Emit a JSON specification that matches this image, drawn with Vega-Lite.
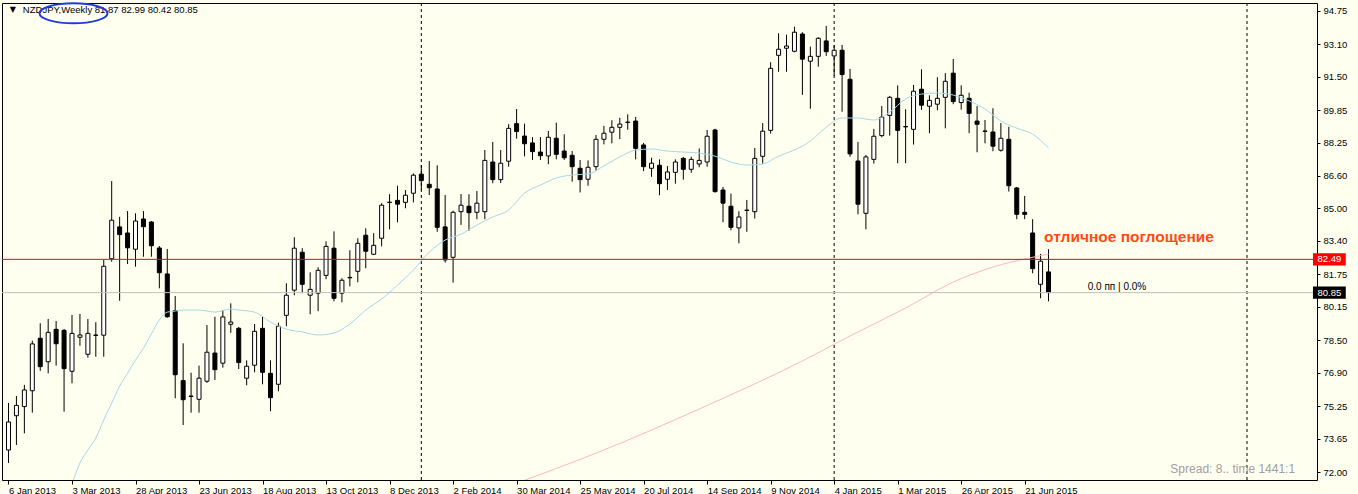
{
  "$schema": "https://vega.github.io/schema/vega-lite/v6.json",
  "width": 1315,
  "height": 477,
  "autosize": {"type": "none"},
  "padding": {"left": 2, "top": 3, "right": 41, "bottom": 14},
  "background": "#FFFFF0",
  "config": {
    "view": {"stroke": "#000000", "strokeWidth": 1, "fill": "#FFFFF0"},
    "font": "Liberation Sans"
  },
  "resolve": {"axis": {"x": "independent", "y": "independent"}},
  "datasets": {
    "candles": [
      {"i":0,"o":73.09,"h":75.41,"l":72.45,"c":74.47},
      {"i":1,"o":74.78,"h":75.75,"l":73.34,"c":75.29},
      {"i":2,"o":75.23,"h":76.30,"l":73.91,"c":76.05},
      {"i":3,"o":76.01,"h":78.48,"l":74.93,"c":78.32},
      {"i":4,"o":78.60,"h":79.34,"l":76.99,"c":77.20},
      {"i":5,"o":77.44,"h":79.55,"l":76.87,"c":78.89},
      {"i":6,"o":79.04,"h":79.45,"l":77.25,"c":78.33},
      {"i":7,"o":78.99,"h":79.06,"l":74.98,"c":77.10},
      {"i":8,"o":76.97,"h":79.75,"l":76.38,"c":78.84},
      {"i":9,"o":78.65,"h":79.80,"l":78.23,"c":78.76},
      {"i":10,"o":77.81,"h":79.55,"l":77.64,"c":78.84},
      {"i":11,"o":78.74,"h":79.39,"l":77.69,"c":78.76},
      {"i":12,"o":78.75,"h":82.46,"l":77.69,"c":82.15},
      {"i":13,"o":82.52,"h":86.35,"l":82.37,"c":84.42},
      {"i":14,"o":84.09,"h":84.59,"l":80.45,"c":83.71},
      {"i":15,"o":83.79,"h":84.87,"l":82.26,"c":83.06},
      {"i":16,"o":82.99,"h":84.76,"l":82.13,"c":84.38},
      {"i":17,"o":84.48,"h":84.87,"l":82.62,"c":84.10},
      {"i":18,"o":84.33,"h":84.38,"l":82.62,"c":83.16},
      {"i":19,"o":83.05,"h":83.15,"l":81.06,"c":81.83},
      {"i":20,"o":81.77,"h":83.00,"l":79.61,"c":79.66},
      {"i":21,"o":79.96,"h":80.68,"l":75.64,"c":76.80},
      {"i":22,"o":76.51,"h":78.35,"l":74.32,"c":75.57},
      {"i":23,"o":75.73,"h":76.90,"l":74.93,"c":75.75},
      {"i":24,"o":75.59,"h":77.25,"l":74.93,"c":76.63},
      {"i":25,"o":76.48,"h":79.25,"l":76.40,"c":77.91},
      {"i":26,"o":77.87,"h":79.66,"l":76.54,"c":77.05},
      {"i":27,"o":77.37,"h":79.99,"l":77.15,"c":79.65},
      {"i":28,"o":79.29,"h":80.32,"l":78.87,"c":79.40},
      {"i":29,"o":79.09,"h":79.16,"l":77.08,"c":77.40},
      {"i":30,"o":76.63,"h":77.51,"l":76.28,"c":77.22},
      {"i":31,"o":77.27,"h":79.30,"l":76.92,"c":78.94},
      {"i":32,"o":79.09,"h":79.66,"l":76.33,"c":76.92},
      {"i":33,"o":76.87,"h":77.51,"l":75.00,"c":75.67},
      {"i":34,"o":76.33,"h":79.37,"l":75.98,"c":79.19},
      {"i":35,"o":79.73,"h":81.31,"l":79.19,"c":80.72},
      {"i":36,"o":80.97,"h":83.58,"l":80.72,"c":83.04},
      {"i":37,"o":82.84,"h":83.04,"l":80.82,"c":81.26},
      {"i":38,"o":80.72,"h":81.85,"l":79.78,"c":81.01},
      {"i":39,"o":80.82,"h":82.10,"l":79.93,"c":81.95},
      {"i":40,"o":81.70,"h":83.38,"l":81.51,"c":83.13},
      {"i":41,"o":83.04,"h":83.87,"l":80.42,"c":80.57},
      {"i":42,"o":80.82,"h":81.56,"l":80.37,"c":81.46},
      {"i":43,"o":81.58,"h":82.94,"l":81.16,"c":81.60},
      {"i":44,"o":81.90,"h":83.53,"l":81.36,"c":83.28},
      {"i":45,"o":83.68,"h":84.02,"l":82.05,"c":82.89},
      {"i":46,"o":82.74,"h":83.78,"l":82.70,"c":83.18},
      {"i":47,"o":83.53,"h":85.26,"l":83.13,"c":85.16},
      {"i":48,"o":85.29,"h":85.70,"l":83.97,"c":85.31},
      {"i":49,"o":85.40,"h":86.12,"l":84.32,"c":85.21},
      {"i":50,"o":85.30,"h":85.91,"l":85.01,"c":85.65},
      {"i":51,"o":85.75,"h":86.73,"l":85.30,"c":86.64},
      {"i":52,"o":86.69,"h":87.14,"l":85.91,"c":86.37},
      {"i":53,"o":86.19,"h":87.34,"l":85.66,"c":86.02},
      {"i":54,"o":85.96,"h":87.13,"l":83.85,"c":84.07},
      {"i":55,"o":84.09,"h":85.66,"l":82.33,"c":82.46},
      {"i":56,"o":82.59,"h":84.89,"l":81.34,"c":84.81},
      {"i":57,"o":84.84,"h":85.71,"l":84.19,"c":85.16},
      {"i":58,"o":85.11,"h":85.70,"l":83.90,"c":84.79},
      {"i":59,"o":84.81,"h":85.86,"l":84.47,"c":85.26},
      {"i":60,"o":84.84,"h":87.88,"l":84.47,"c":87.37},
      {"i":61,"o":87.29,"h":88.28,"l":86.24,"c":86.42},
      {"i":62,"o":86.42,"h":87.88,"l":86.25,"c":87.23},
      {"i":63,"o":87.33,"h":89.16,"l":87.06,"c":88.95},
      {"i":64,"o":89.18,"h":89.90,"l":88.44,"c":88.79},
      {"i":65,"o":88.57,"h":89.18,"l":87.57,"c":88.19},
      {"i":66,"o":88.23,"h":88.52,"l":87.39,"c":87.80},
      {"i":67,"o":87.78,"h":88.52,"l":87.39,"c":87.60},
      {"i":68,"o":87.59,"h":88.82,"l":87.18,"c":88.51},
      {"i":69,"o":88.46,"h":89.23,"l":87.42,"c":87.67},
      {"i":70,"o":87.83,"h":88.66,"l":87.39,"c":87.50},
      {"i":71,"o":87.62,"h":87.83,"l":86.32,"c":87.06},
      {"i":72,"o":86.98,"h":87.39,"l":85.79,"c":86.42},
      {"i":73,"o":86.44,"h":87.37,"l":86.12,"c":87.03},
      {"i":74,"o":87.06,"h":88.62,"l":86.86,"c":88.41},
      {"i":75,"o":88.41,"h":89.07,"l":88.16,"c":88.71},
      {"i":76,"o":88.76,"h":89.35,"l":88.21,"c":89.00},
      {"i":77,"o":89.00,"h":89.47,"l":88.42,"c":89.16},
      {"i":78,"o":89.24,"h":89.64,"l":88.88,"c":89.26},
      {"i":79,"o":89.31,"h":89.51,"l":87.42,"c":87.96},
      {"i":80,"o":88.13,"h":88.23,"l":86.84,"c":87.06},
      {"i":81,"o":86.98,"h":87.50,"l":86.56,"c":87.23},
      {"i":82,"o":87.13,"h":87.42,"l":85.65,"c":86.22},
      {"i":83,"o":86.44,"h":87.09,"l":85.91,"c":86.80},
      {"i":84,"o":86.78,"h":87.42,"l":86.22,"c":87.29},
      {"i":85,"o":87.47,"h":87.54,"l":86.42,"c":86.93},
      {"i":86,"o":86.93,"h":87.55,"l":86.76,"c":87.42},
      {"i":87,"o":87.19,"h":87.96,"l":87.03,"c":87.37},
      {"i":88,"o":87.29,"h":88.87,"l":87.06,"c":88.56},
      {"i":89,"o":88.87,"h":88.93,"l":85.78,"c":85.83},
      {"i":90,"o":85.91,"h":86.06,"l":84.32,"c":85.26},
      {"i":91,"o":85.11,"h":85.73,"l":83.92,"c":84.07},
      {"i":92,"o":84.04,"h":84.86,"l":83.28,"c":84.58},
      {"i":93,"o":84.90,"h":85.42,"l":83.85,"c":84.92},
      {"i":94,"o":84.84,"h":87.98,"l":84.50,"c":87.47},
      {"i":95,"o":87.57,"h":89.21,"l":87.21,"c":88.81},
      {"i":96,"o":88.85,"h":92.21,"l":88.69,"c":91.91},
      {"i":97,"o":92.55,"h":93.64,"l":91.74,"c":92.85},
      {"i":98,"o":92.90,"h":93.57,"l":91.74,"c":93.01},
      {"i":99,"o":92.75,"h":93.96,"l":92.70,"c":93.69},
      {"i":100,"o":93.60,"h":93.69,"l":90.60,"c":92.36},
      {"i":101,"o":92.26,"h":92.98,"l":89.92,"c":92.50},
      {"i":102,"o":92.50,"h":93.44,"l":91.99,"c":93.39},
      {"i":103,"o":93.26,"h":94.00,"l":92.52,"c":92.73},
      {"i":104,"o":92.52,"h":93.06,"l":91.53,"c":92.80},
      {"i":105,"o":92.80,"h":93.06,"l":89.77,"c":91.60},
      {"i":106,"o":91.37,"h":91.88,"l":87.55,"c":87.69},
      {"i":107,"o":87.34,"h":88.28,"l":84.71,"c":85.21},
      {"i":108,"o":84.76,"h":87.64,"l":83.97,"c":87.54},
      {"i":109,"o":87.42,"h":88.92,"l":87.21,"c":88.56},
      {"i":110,"o":88.59,"h":90.05,"l":88.51,"c":89.50},
      {"i":111,"o":89.59,"h":90.55,"l":88.59,"c":90.48},
      {"i":112,"o":90.43,"h":91.07,"l":87.23,"c":88.85},
      {"i":113,"o":89.02,"h":89.89,"l":87.23,"c":89.04},
      {"i":114,"o":88.90,"h":91.09,"l":88.15,"c":90.78},
      {"i":115,"o":90.88,"h":91.86,"l":89.86,"c":90.09},
      {"i":116,"o":90.04,"h":90.58,"l":88.71,"c":90.33},
      {"i":117,"o":90.14,"h":91.47,"l":89.84,"c":90.43},
      {"i":118,"o":90.48,"h":91.67,"l":88.95,"c":91.27},
      {"i":119,"o":91.67,"h":92.37,"l":90.14,"c":90.27},
      {"i":120,"o":90.22,"h":91.07,"l":89.87,"c":90.58},
      {"i":121,"o":90.43,"h":90.71,"l":88.71,"c":89.69},
      {"i":122,"o":89.31,"h":90.05,"l":87.77,"c":89.15},
      {"i":123,"o":88.80,"h":89.36,"l":88.21,"c":88.82},
      {"i":124,"o":88.77,"h":89.94,"l":87.82,"c":88.07},
      {"i":125,"o":87.87,"h":89.21,"l":87.80,"c":88.46},
      {"i":126,"o":88.41,"h":89.03,"l":85.83,"c":86.12},
      {"i":127,"o":86.01,"h":86.06,"l":84.47,"c":84.71},
      {"i":128,"o":84.81,"h":85.62,"l":84.47,"c":84.71},
      {"i":129,"o":83.79,"h":84.47,"l":81.80,"c":82.03},
      {"i":130,"o":81.26,"h":82.76,"l":80.57,"c":82.40},
      {"i":131,"o":81.87,"h":82.99,"l":80.42,"c":80.85}
    ],
    "ma_fast": [
      {"i":8,"v":71.40},{"i":9,"v":72.45},{"i":10,"v":73.09},{"i":11,"v":73.68},{"i":12,"v":74.57},
      {"i":13,"v":75.40},{"i":14,"v":76.24},{"i":15,"v":76.88},{"i":16,"v":77.52},{"i":17,"v":78.11},
      {"i":18,"v":78.81},{"i":19,"v":79.50},{"i":20,"v":79.89},{"i":21,"v":79.94},{"i":22,"v":79.99},
      {"i":24,"v":79.99},{"i":26,"v":79.89},{"i":28,"v":80.04},{"i":29,"v":79.99},{"i":31,"v":79.89},
      {"i":33,"v":79.40},{"i":35,"v":79.05},{"i":37,"v":78.91},{"i":39,"v":78.76},{"i":41,"v":78.86},
      {"i":43,"v":79.30},{"i":45,"v":79.99},{"i":47,"v":80.53},{"i":49,"v":81.22},{"i":51,"v":81.96},
      {"i":53,"v":82.85},{"i":55,"v":83.44},{"i":57,"v":83.73},{"i":59,"v":84.18},{"i":61,"v":84.58},
      {"i":63,"v":84.92},{"i":65,"v":85.76},{"i":67,"v":86.15},{"i":69,"v":86.50},{"i":71,"v":86.65},
      {"i":73,"v":86.70},{"i":75,"v":87.10},{"i":77,"v":87.54},{"i":79,"v":87.88},{"i":81,"v":87.93},
      {"i":83,"v":87.83},{"i":85,"v":87.78},{"i":87,"v":87.73},{"i":89,"v":87.58},{"i":91,"v":87.29},
      {"i":93,"v":87.14},{"i":95,"v":87.19},{"i":97,"v":87.58},{"i":99,"v":87.88},{"i":101,"v":88.32},
      {"i":103,"v":89.01},{"i":105,"v":89.46},{"i":107,"v":89.46},{"i":109,"v":89.36},{"i":111,"v":89.75},
      {"i":113,"v":90.40},{"i":115,"v":90.64},{"i":117,"v":90.69},{"i":119,"v":90.59},{"i":121,"v":90.30},
      {"i":123,"v":89.90},{"i":125,"v":89.31},{"i":127,"v":88.96},{"i":129,"v":88.67},{"i":131,"v":87.98}
    ],
    "ma_slow": [
      {"i":64,"v":71.45},{"i":75,"v":73.09},{"i":87,"v":75.11},{"i":100,"v":77.48},{"i":106,"v":78.71},
      {"i":113,"v":80.09},{"i":119,"v":81.37},{"i":124,"v":82.11},{"i":128,"v":82.51},{"i":131,"v":82.75}
    ],
    "separators": [{"i":52},{"i":104},{"i":156}]
  },
  "layer": [
    {
      "data": {"name": "candles"},
      "mark": {"type": "rule", "color": "#000000", "strokeWidth": 1},
      "encoding": {
        "x": {
          "field": "i", "type": "quantitative",
          "scale": {"domain": [-0.1875, 164.1875], "nice": false, "zero": false},
          "axis": {
            "title": null, "grid": false, "domain": false,
            "values": [0, 8, 16, 24, 32, 40, 48, 56, 64, 72, 80, 88, 96, 104, 112, 120, 128],
            "labelExpr": "timeFormat(datetime(2013, 0, 6 + datum.value * 7), '%-d %b %Y')",
            "tickColor": "#000000", "tickSize": 4, "labelAlign": "left", "labelColor": "#000000",
            "labelFont": "Liberation Sans", "labelFontSize": 9.5, "labelPadding": 1,
            "labelFlush": false, "labelOverlap": false, "labelBound": false
          }
        },
        "y": {
          "field": "l", "type": "quantitative",
          "scale": {"domain": [71.61, 95.13], "nice": false, "zero": false},
          "axis": {
            "title": null, "orient": "right", "grid": false, "domain": false,
            "values": [72, 73.65, 75.25, 76.9, 78.5, 80.15, 81.75, 83.4, 85, 86.6, 88.25, 89.85, 91.5, 93.1, 94.75],
            "format": ".2f", "tickColor": "#000000", "tickSize": 3, "labelPadding": 3,
            "labelColor": "#000000", "labelFont": "Liberation Sans", "labelFontSize": 9.5,
            "labelOverlap": false, "labelBound": false, "labelFlush": false
          }
        },
        "y2": {"field": "h"}
      }
    },
    {
      "data": {"name": "separators"},
      "mark": {"type": "rule", "color": "#000000", "strokeWidth": 1, "strokeDash": [3, 3]},
      "encoding": {
        "x": {"field": "i", "type": "quantitative", "axis": null}
      }
    },
    {
      "data": {"name": "candles"},
      "mark": {"type": "bar", "width": 4, "stroke": "#000000", "strokeWidth": 1},
      "encoding": {
        "x": {"field": "i", "type": "quantitative", "axis": null},
        "y": {"field": "o", "type": "quantitative", "axis": null},
        "y2": {"field": "c"},
        "fill": {"condition": {"test": "datum.o > datum.c", "value": "#000000"}, "value": "#FFFFFF"}
      }
    },
    {
      "data": {"name": "ma_fast"},
      "mark": {"type": "line", "color": "#A6D8E8", "strokeWidth": 1, "clip": true, "interpolate": "monotone"},
      "encoding": {
        "x": {"field": "i", "type": "quantitative", "axis": null},
        "y": {"field": "v", "type": "quantitative", "axis": null}
      }
    },
    {
      "data": {"name": "ma_slow"},
      "mark": {"type": "line", "color": "#FFB6C1", "strokeWidth": 1, "clip": true, "interpolate": "monotone"},
      "encoding": {
        "x": {"field": "i", "type": "quantitative", "axis": null},
        "y": {"field": "v", "type": "quantitative", "axis": null}
      }
    },
    {
      "data": {"values": [{}]},
      "mark": {"type": "rule", "color": "#C0C0C0", "strokeWidth": 1},
      "encoding": {"y": {"datum": 80.85, "type": "quantitative", "axis": null}}
    },
    {
      "data": {"values": [{}]},
      "mark": {"type": "rule", "color": "#FF0000", "strokeWidth": 1},
      "encoding": {"y": {"datum": 82.49, "type": "quantitative", "axis": null}}
    },
    {
      "data": {"values": [{}]},
      "mark": {"type": "rect", "color": "#FF0000"},
      "encoding": {
        "x": {"datum": 164.31, "type": "quantitative", "axis": null},
        "x2": {"datum": 168.44},
        "y": {"datum": 82.19, "type": "quantitative", "axis": null},
        "y2": {"datum": 82.79}
      }
    },
    {
      "data": {"values": [{}]},
      "mark": {"type": "text", "text": "82.49", "color": "#FFFFFF", "font": "Liberation Sans", "fontSize": 9.5, "align": "center", "baseline": "middle"},
      "encoding": {
        "x": {"datum": 166.375, "type": "quantitative", "axis": null},
        "y": {"datum": 82.49, "type": "quantitative", "axis": null}
      }
    },
    {
      "data": {"values": [{}]},
      "mark": {"type": "rect", "color": "#000000"},
      "encoding": {
        "x": {"datum": 164.31, "type": "quantitative", "axis": null},
        "x2": {"datum": 168.44},
        "y": {"datum": 80.55, "type": "quantitative", "axis": null},
        "y2": {"datum": 81.15}
      }
    },
    {
      "data": {"values": [{}]},
      "mark": {"type": "text", "text": "80.85", "color": "#FFFFFF", "font": "Liberation Sans", "fontSize": 9.5, "align": "center", "baseline": "middle"},
      "encoding": {
        "x": {"datum": 166.375, "type": "quantitative", "axis": null},
        "y": {"datum": 80.85, "type": "quantitative", "axis": null}
      }
    },
    {
      "data": {"values": [{}]},
      "mark": {"type": "text", "text": "▼", "color": "#000000", "font": "DejaVu Sans", "fontSize": 8, "align": "center", "baseline": "middle"},
      "encoding": {
        "x": {"datum": 0.56, "type": "quantitative", "axis": null},
        "y": {"datum": 94.785, "type": "quantitative", "axis": null}
      }
    },
    {
      "data": {"values": [{}]},
      "mark": {"type": "text", "text": "NZDJPY,Weekly  81.87 82.99 80.42 80.85", "color": "#000000", "font": "Liberation Sans", "fontSize": 9.5, "align": "left", "baseline": "middle"},
      "encoding": {
        "x": {"datum": 1.81, "type": "quantitative", "axis": null},
        "y": {"datum": 94.785, "type": "quantitative", "axis": null}
      }
    },
    {
      "data": {"values": [{}]},
      "mark": {"type": "point", "shape": "M -1 0 A 1 0.294 0 1 0 1 0 A 1 0.294 0 1 0 -1 0 Z", "size": 4624, "filled": false, "stroke": "#1E3CDC", "strokeWidth": 2, "opacity": 1},
      "encoding": {
        "x": {"datum": 8.19, "type": "quantitative", "axis": null},
        "y": {"datum": 94.62, "type": "quantitative", "axis": null}
      }
    },
    {
      "data": {"values": [{}]},
      "mark": {"type": "text", "text": "отличное поглощение", "color": "#FF4A10", "font": "Liberation Sans", "fontSize": 15.5, "fontWeight": "bold", "align": "left", "baseline": "middle"},
      "encoding": {
        "x": {"datum": 130.44, "type": "quantitative", "axis": null},
        "y": {"datum": 83.61, "type": "quantitative", "axis": null}
      }
    },
    {
      "data": {"values": [{}]},
      "mark": {"type": "text", "text": "0.0 пп | 0.0%", "color": "#000000", "font": "Liberation Sans", "fontSize": 10, "align": "left", "baseline": "middle"},
      "encoding": {
        "x": {"datum": 135.94, "type": "quantitative", "axis": null},
        "y": {"datum": 81.14, "type": "quantitative", "axis": null}
      }
    },
    {
      "data": {"values": [{}]},
      "mark": {"type": "text", "text": "Spread: 8.. time 1441:1", "color": "#A0A0A0", "font": "Liberation Sans", "fontSize": 12, "align": "right", "baseline": "middle"},
      "encoding": {
        "x": {"datum": 162.06, "type": "quantitative", "axis": null},
        "y": {"datum": 72.15, "type": "quantitative", "axis": null}
      }
    }
  ]
}
